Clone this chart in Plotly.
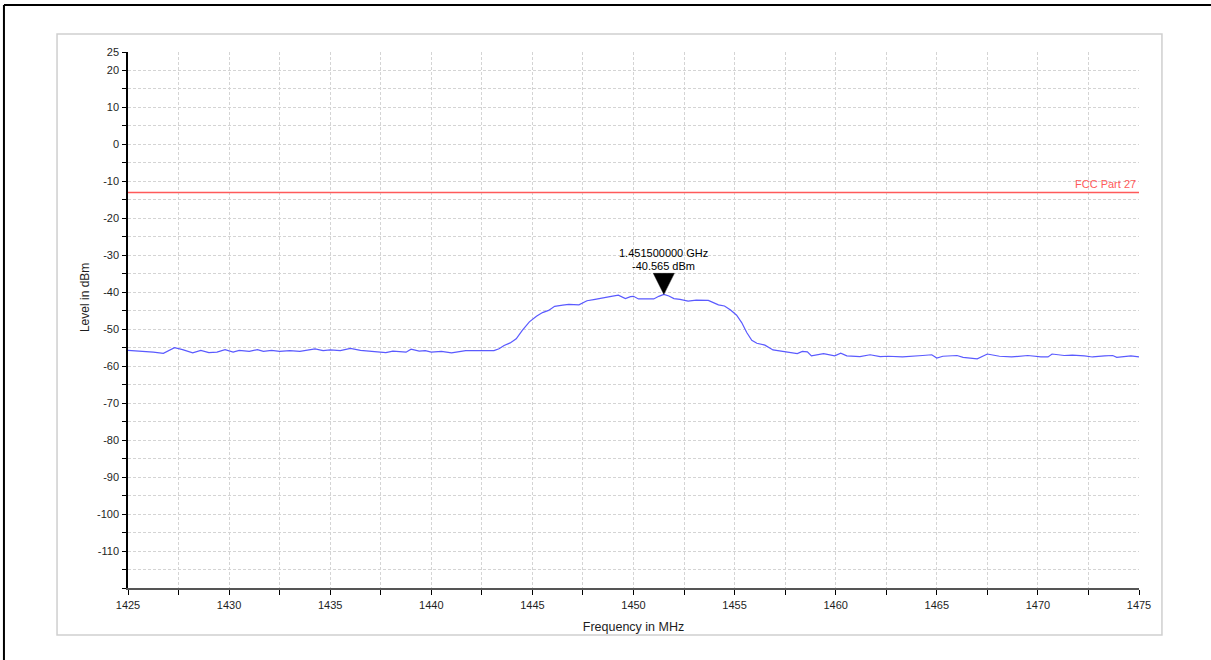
import plotly.graph_objects as go

# Spectrum sweep: frequency (MHz) vs. measured level (dBm)
freq_mhz = [
    1425.0, 1425.6, 1426.25, 1426.75, 1427.3, 1427.7, 1428.2, 1428.6, 1429.0, 1429.4,
    1429.8, 1430.2, 1430.5, 1431.0, 1431.4, 1431.7, 1432.1, 1432.5, 1433.0, 1433.5,
    1434.25, 1434.65, 1435.0, 1435.5, 1436.0, 1436.5, 1437.1, 1437.75, 1438.1, 1438.75,
    1439.0, 1439.4, 1439.7, 1440.0, 1440.5, 1441.0, 1441.7, 1442.5, 1443.1, 1443.35,
    1443.6, 1443.9, 1444.2, 1444.5, 1444.85, 1445.2, 1445.5, 1445.8, 1446.1, 1446.5,
    1446.8, 1447.3, 1447.7, 1448.1, 1448.5, 1448.9, 1449.25, 1449.6, 1449.85, 1450.0,
    1450.25, 1451.0, 1451.25, 1451.5, 1451.75, 1452.0, 1452.3, 1452.7, 1453.1, 1453.7,
    1453.95, 1454.2, 1454.5, 1454.8, 1455.1, 1455.35, 1455.6, 1455.85, 1456.1, 1456.5,
    1456.9, 1457.45, 1457.75, 1458.1, 1458.35, 1458.6, 1458.8, 1459.4, 1459.95, 1460.25,
    1460.55, 1461.2, 1461.7, 1462.2, 1462.6, 1463.3, 1464.3, 1464.75, 1465.0, 1465.3,
    1466.0, 1466.3, 1467.0, 1467.5, 1468.1, 1468.7, 1469.5, 1470.15, 1470.5, 1470.7,
    1471.3, 1471.7, 1472.3, 1472.7, 1473.3, 1473.7, 1473.9, 1474.6, 1475.0,
]
level_dbm = [
    -55.7, -55.9, -56.2, -56.5, -55.0, -55.5, -56.4, -55.7, -56.3, -56.2,
    -55.5, -56.2, -55.7, -56.0, -55.5, -56.0, -55.7, -56.0, -55.8, -56.0,
    -55.3, -55.8, -55.6, -55.8, -55.2, -55.7, -55.9, -56.3, -55.9, -56.2,
    -55.4, -55.9, -55.8, -56.2, -56.0, -56.4, -55.8, -55.8, -55.8, -55.3,
    -54.4, -53.7, -52.6, -50.3, -48.0, -46.5, -45.5, -44.9, -43.8, -43.5,
    -43.3, -43.4, -42.3, -41.9, -41.4, -41.1, -40.8, -41.7, -41.2, -41.1,
    -41.8, -41.8, -41.1, -40.565, -41.0, -41.7, -41.9, -42.4, -42.1, -42.2,
    -42.8, -43.4, -43.7, -44.8, -46.2, -48.2, -50.9, -53.0, -53.8, -54.3,
    -55.6, -56.1, -56.2, -56.6, -56.0, -56.1, -57.2, -56.6, -57.2, -56.5,
    -57.2, -57.4, -56.9, -57.4, -57.3, -57.5, -57.1, -56.9, -57.8, -57.3,
    -57.1, -57.6, -58.0, -56.7, -57.3, -57.5, -57.1, -57.5, -57.5, -56.7,
    -57.1, -57.0, -57.2, -57.5, -57.2, -57.1, -57.6, -57.2, -57.5,
]

# Peak marker
marker_freq = 1451.5
marker_level = -40.565

# Limit line
limit_level = -13
limit_name = "FCC Part 27"

# Axis ticks
x_tickvals = [1425, 1430, 1435, 1440, 1445, 1450, 1455, 1460, 1465, 1470, 1475]
y_tickvals = [25, 20, 10, 0, -10, -20, -30, -40, -50, -60, -70, -80, -90, -100, -110]
y_ticktext = ["25", "20", "10", "0", "-10", "-20", "-30", "-40", "-50", "-60",
              "-70", "-80", "-90", "-100", "-110"]
x_range = [1425, 1475]
y_range = [-120, 25]

FONT = "Liberation Sans, Arial, sans-serif"
GRID = "#d4d4d4"
TEXT = "#1e1e1e"

fig = go.Figure()

fig.add_trace(go.Scatter(
    x=freq_mhz, y=level_dbm, mode="lines",
    line=dict(color="#5a5aff", width=1.2),
    hoverinfo="skip", showlegend=False,
))

fig.add_trace(go.Scatter(
    x=x_range, y=[limit_level, limit_level], mode="lines",
    line=dict(color="#ff5a5a", width=1.6),
    hoverinfo="skip", showlegend=False,
))

# Limit label, right aligned above the line
fig.add_annotation(
    x=x_range[1], y=limit_level, xref="x", yref="y",
    text=limit_name, showarrow=False, xanchor="right", yanchor="bottom",
    font=dict(family=FONT, size=11, color="#ff5a5a"), xshift=-1, yshift=0,
)

# Marker triangle with its tip on the peak
fig.add_shape(
    type="path", xref="x", yref="y",
    xsizemode="pixel", ysizemode="pixel",
    xanchor=marker_freq, yanchor=marker_level,
    path="M -10.5 21 L 10.5 21 L 0 0 Z",
    fillcolor="black", line=dict(color="black", width=0.5),
)
fig.add_annotation(
    x=marker_freq, y=marker_level, xref="x", yref="y",
    text=f"{marker_freq / 1000:.9f} GHz", showarrow=False,
    xanchor="center", yanchor="middle", yshift=41,
    font=dict(family=FONT, size=11, color="black"),
)
fig.add_annotation(
    x=marker_freq, y=marker_level, xref="x", yref="y",
    text=f"{marker_level:.3f} dBm", showarrow=False,
    xanchor="center", yanchor="middle", yshift=28,
    font=dict(family=FONT, size=11, color="black"),
)

# Y axis title
fig.add_annotation(
    x=-0.0425, y=0.541, xref="paper", yref="paper",
    text="Level in dBm", textangle=-90, showarrow=False,
    xanchor="center", yanchor="middle",
    font=dict(family=FONT, size=12, color=TEXT),
)

# Outer frame: left and top black edges, inner light grey panel border
fig.add_shape(type="line", xref="paper", yref="paper",
              x0=-0.1227, x1=1.08, y0=1.0877, y1=1.0877,
              line=dict(color="black", width=2))
fig.add_shape(type="line", xref="paper", yref="paper",
              x0=-0.1227, x1=-0.1227, y0=1.0877, y1=-0.14,
              line=dict(color="black", width=2))
fig.add_shape(type="rect", xref="paper", yref="paper",
              x0=-0.0702, x1=1.0227, y0=-0.0877, y1=1.0336,
              line=dict(color="#cfcfcf", width=1.5), layer="below")

fig.update_layout(
    width=1211, height=660,
    margin=dict(l=128, r=72, t=52, b=72),
    paper_bgcolor="white", plot_bgcolor="white",
    font=dict(family=FONT, size=11, color=TEXT),
    showlegend=False,
)

fig.update_xaxes(
    range=x_range, tickvals=x_tickvals,
    ticks="outside", ticklen=5, tickwidth=1, tickcolor="black",
    showline=True, linecolor="#555555", linewidth=2,
    showgrid=True, gridcolor=GRID, griddash="3px,2px", gridwidth=1,
    minor=dict(dtick=2.5, tick0=1425, ticks="outside", ticklen=5, tickcolor="black",
               showgrid=True, gridcolor=GRID, griddash="3px,2px"),
    zeroline=False, ticklabelstandoff=1,
    tickfont=dict(family=FONT, size=11, color=TEXT),
    title=dict(text="Frequency in MHz", standoff=12,
               font=dict(family=FONT, size=12.5, color=TEXT)),
)
fig.update_yaxes(
    range=y_range, tickvals=y_tickvals, ticktext=y_ticktext,
    ticks="outside", ticklen=4, tickwidth=1, tickcolor="black",
    showline=True, linecolor="black", linewidth=1.5,
    showgrid=True, gridcolor=GRID, griddash="3px,2px", gridwidth=1,
    minor=dict(dtick=5, tick0=0, ticks="outside", ticklen=4, tickcolor="black",
               showgrid=True, gridcolor=GRID, griddash="3px,2px"),
    zeroline=False, ticklabelstandoff=1,
    tickfont=dict(family=FONT, size=11, color=TEXT),
)

fig.write_html("out.html")
